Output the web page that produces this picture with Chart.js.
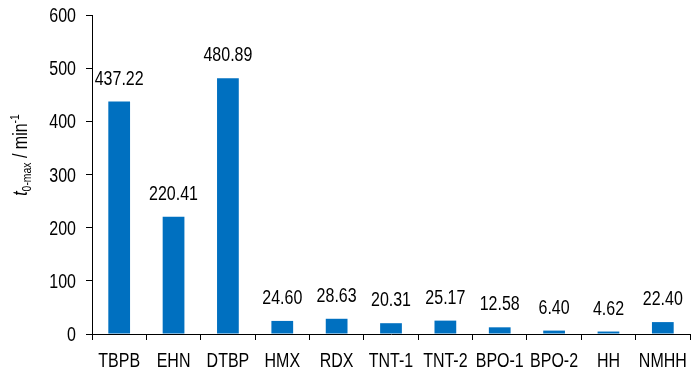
<!DOCTYPE html>
<html>
<head>
<meta charset="utf-8">
<script src="https://cdn.jsdelivr.net/npm/chart.js@4.4.1/dist/chart.umd.min.js"></script>
<style>
 html,body{margin:0;padding:0;background:#fff;}
 #wrap{width:700px;height:375px;}
</style>
</head>
<body>
<div id="wrap"><canvas id="chart"></canvas></div>
<script>
const categories = ["TBPB","EHN","DTBP","HMX","RDX","TNT-1","TNT-2","BPO-1","BPO-2","HH","NMHH"];
const values = [437.22,220.41,480.89,24.60,28.63,20.31,25.17,12.58,6.40,4.62,22.40];
const yTicks = [0,100,200,300,400,500,600];

const FONT = "'Liberation Sans', Arial, sans-serif";
const SQUEEZE = 0.8; // reference text is narrow

// draw condensed text at (x,y)
function narrowText(ctx, text, x, y, font, align){
 ctx.save();
 ctx.font = font;
 ctx.textAlign = align || 'center';
 ctx.textBaseline = 'alphabetic';
 ctx.translate(x, y);
 ctx.scale(SQUEEZE, 1);
 ctx.fillText(text, 0, 0);
 ctx.restore();
}

const textLayer = {
 id:'textLayer',
 afterDraw(chart){
  const ctx = chart.ctx;
  const xs = chart.scales.x, ys = chart.scales.y;
  ctx.fillStyle = '#000';
  // bar values
  chart.getDatasetMeta(0).data.forEach((bar,i)=>{
   narrowText(ctx, values[i].toFixed(2), bar.x, bar.y - 17, '20px ' + FONT);
  });
  // category labels
  categories.forEach((c,i)=>{
   narrowText(ctx, c, xs.getPixelForValue(i), 367, '20px ' + FONT);
  });
  // y tick labels
  yTicks.forEach(v=>{
   narrowText(ctx, String(v), 76, ys.getPixelForValue(v) + 7, '20px ' + FONT, 'right');
  });
  // y axis title: t(0-max) / min(-1)
  const parts = [
   {t:'t', f:'italic 20px ' + FONT, dy:0},
   {t:'0-max', f:'13px ' + FONT, dy:4},
   {t:' / min', f:'20px ' + FONT, dy:0},
   {t:'-1', f:'13px ' + FONT, dy:-8}
  ];
  ctx.save();
  let total = 0;
  parts.forEach(p=>{ ctx.font = p.f; p.w = ctx.measureText(p.t).width * SQUEEZE; total += p.w; });
  ctx.translate(27, 155);
  ctx.rotate(-Math.PI/2);
  ctx.textBaseline = 'alphabetic';
  ctx.textAlign = 'left';
  let x = -total/2;
  parts.forEach(p=>{
   ctx.save();
   ctx.font = p.f;
   ctx.translate(x, p.dy);
   ctx.scale(SQUEEZE, 1);
   ctx.fillText(p.t, 0, 0);
   ctx.restore();
   x += p.w;
  });
  ctx.restore();
 }
};

new Chart(document.getElementById('chart'),{
 type:'bar',
 data:{
  labels:categories,
  datasets:[{
   data:values,
   backgroundColor:'#0070c0',
   borderWidth:0,
   barPercentage:0.4,
   categoryPercentage:1
  }]
 },
 options:{
  responsive:true,
  maintainAspectRatio:false,
  animation:false,
  layout:{padding:{top:15,right:10,left:0,bottom:0}},
  plugins:{legend:{display:false},tooltip:{enabled:false}},
  scales:{
   x:{
    grid:{display:true,drawOnChartArea:false,offset:true,tickLength:6,color:'#000'},
    border:{display:true,color:'#000',width:1},
    ticks:{display:false,autoSkip:false},
    afterFit(scale){ scale.height = 41; }
   },
   y:{
    min:0,max:600,
    afterBuildTicks(scale){ scale.ticks = yTicks.map(v=>({value:v})); },
    grid:{display:true,drawOnChartArea:false,tickLength:6,color:'#000'},
    border:{display:true,color:'#000',width:1},
    ticks:{display:false},
    afterFit(scale){ scale.width = 92; }
   }
  }
 },
 plugins:[textLayer]
});
</script>
</body>
</html>
